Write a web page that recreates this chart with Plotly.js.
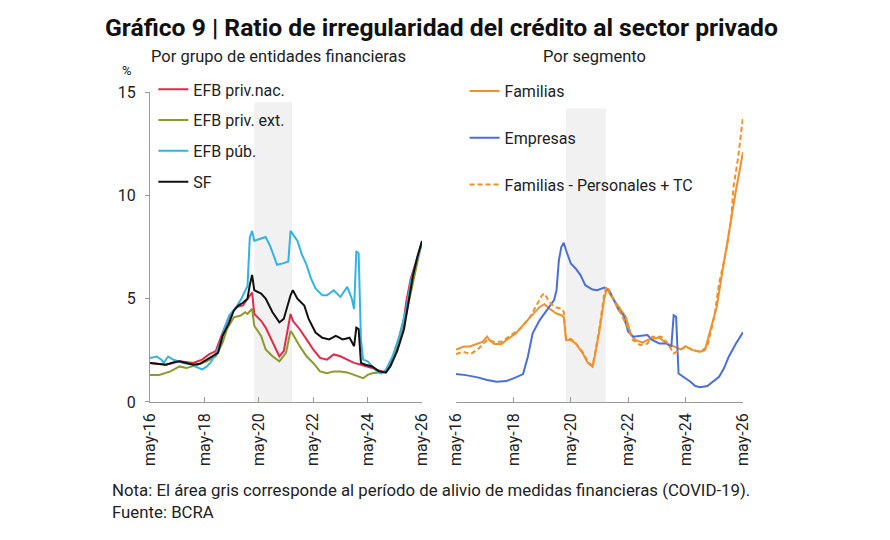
<!DOCTYPE html>
<html>
<head>
<meta charset="utf-8">
<script src="https://cdn.plot.ly/plotly-3.0.1.min.js"></script>
<style>
  html, body { margin: 0; padding: 0; background: #ffffff; }
  #chart { width: 890px; height: 540px; }
</style>
</head>
<body>
<div id="chart"></div>
<script>
// Ratio de irregularidad (%) — por grupo de entidades financieras
const efbPrivNacX = ['2016-05','2016-12','2017-06','2017-12','2018-04','2018-07','2018-10','2019-01','2019-04','2019-07','2019-10','2019-12','2020-02','2020-03','2020-06','2020-08','2020-11','2021-02','2021-04','2021-07','2021-08','2021-11','2022-02','2022-05','2022-08','2022-11','2023-02','2023-05','2023-08','2023-11','2024-02','2024-05','2024-07','2024-10','2025-01','2025-03','2025-06','2025-09','2025-10','2025-12','2026-03','2026-05'];
const efbPrivNacY = [1.89,1.80,1.97,1.89,2.05,2.30,2.46,3.36,4.10,4.59,4.67,5.00,5.30,4.26,3.93,3.60,2.87,2.21,2.46,4.26,3.93,3.52,3.03,2.54,2.13,2.05,2.30,2.21,2.05,1.89,1.80,1.72,1.64,1.52,1.43,1.80,2.70,4.02,4.84,5.98,6.97,7.70];

const efbPrivExtX = ['2016-05','2016-09','2017-02','2017-06','2017-09','2018-02','2018-06','2018-10','2019-01','2019-03','2019-06','2019-09','2019-11','2019-12','2020-02','2020-03','2020-06','2020-08','2020-11','2021-02','2021-05','2021-07','2021-08','2021-11','2022-02','2022-05','2022-08','2022-11','2023-02','2023-05','2023-08','2023-11','2024-01','2024-03','2024-05','2024-07','2024-10','2025-01','2025-03','2025-06','2025-09','2025-12','2026-02','2026-05'];
const efbPrivExtY = [1.31,1.31,1.48,1.72,1.64,1.80,1.97,2.21,2.87,3.52,4.10,4.18,4.34,4.26,4.51,3.69,3.20,2.54,2.21,1.97,2.38,3.44,3.28,2.70,2.21,1.89,1.48,1.39,1.48,1.48,1.43,1.31,1.26,1.15,1.31,1.39,1.43,1.43,1.75,2.54,3.77,5.33,6.39,7.79];

const efbPubX = ['2016-05','2016-08','2016-10','2016-11','2017-01','2017-03','2017-06','2017-08','2017-11','2018-01','2018-04','2018-06','2018-08','2018-10','2018-12','2019-02','2019-04','2019-07','2019-09','2019-11','2019-12','2020-01','2020-02','2020-03','2020-05','2020-08','2020-10','2021-01','2021-04','2021-06','2021-07','2021-10','2021-12','2022-02','2022-04','2022-06','2022-09','2022-11','2023-02','2023-05','2023-08','2023-10','2023-11','2023-12','2024-01','2024-02','2024-03','2024-05','2024-07','2024-09','2024-11','2025-01','2025-04','2025-07','2025-10','2025-12','2026-03','2026-05'];
const efbPubY = [2.13,2.20,2.05,1.90,2.20,2.06,1.95,1.87,1.84,1.71,1.58,1.71,1.95,2.35,2.84,3.65,4.20,4.58,4.94,5.40,5.60,7.95,8.28,7.80,7.87,7.98,7.54,6.64,6.72,6.80,8.28,7.80,7.13,6.64,5.98,5.50,5.16,5.16,5.40,5.08,5.57,5.00,4.50,7.30,7.20,3.03,2.05,1.97,1.72,1.48,1.39,1.56,2.21,3.20,4.50,5.82,6.97,7.79];

const sfX = ['2016-05','2016-09','2016-12','2017-04','2017-06','2017-09','2017-12','2018-03','2018-06','2018-09','2018-11','2019-01','2019-04','2019-06','2019-08','2019-10','2019-12','2020-01','2020-02','2020-03','2020-06','2020-08','2020-11','2021-02','2021-04','2021-07','2021-08','2021-10','2022-01','2022-03','2022-06','2022-09','2022-12','2023-03','2023-06','2023-09','2023-11','2023-12','2024-01','2024-02','2024-04','2024-07','2024-10','2025-01','2025-03','2025-06','2025-09','2025-11','2026-01','2026-03','2026-05'];
const sfY = [1.89,1.85,1.80,1.93,1.97,1.89,1.80,1.85,2.05,2.21,2.38,3.20,3.85,4.43,4.67,4.80,5.00,5.66,6.15,5.41,5.25,5.00,4.34,3.85,4.02,5.16,5.41,5.00,4.67,4.02,3.36,3.11,3.03,3.20,3.03,3.11,2.70,3.60,3.53,1.89,1.80,1.72,1.48,1.43,1.72,2.46,3.52,4.84,6.15,7.05,7.79];

// Ratio de irregularidad (%) — por segmento
const familiasX = ['2016-05','2016-08','2016-11','2017-02','2017-04','2017-06','2017-07','2017-09','2017-12','2018-02','2018-06','2018-09','2019-01','2019-04','2019-06','2019-08','2019-11','2020-01','2020-02','2020-03','2020-05','2020-07','2020-10','2020-12','2021-02','2021-03','2021-05','2021-07','2021-08','2021-10','2022-01','2022-04','2022-06','2022-08','2022-11','2023-01','2023-04','2023-06','2023-09','2023-12','2024-03','2024-05','2024-08','2024-11','2025-01','2025-03','2025-06','2025-08','2025-10','2025-12','2026-02','2026-05'];
const familiasY = [2.54,2.67,2.70,2.83,2.91,3.16,3.00,2.80,2.80,3.00,3.32,3.72,4.20,4.60,4.73,4.52,4.28,4.20,4.12,3.00,3.00,2.83,2.35,1.90,1.71,2.19,3.48,5.01,5.49,5.09,4.60,4.12,3.32,3.00,2.87,3.00,3.08,3.12,2.83,2.67,2.54,2.70,2.51,2.43,2.51,3.32,4.60,6.05,7.50,8.79,10.24,12.09];

const empresasX = ['2016-05','2016-09','2017-02','2017-06','2017-10','2018-02','2018-06','2018-09','2018-11','2019-01','2019-04','2019-07','2019-10','2019-11','2019-12','2020-01','2020-02','2020-03','2020-05','2020-07','2020-09','2020-11','2021-02','2021-04','2021-07','2021-09','2021-11','2022-01','2022-03','2022-05','2022-07','2022-10','2023-01','2023-03','2023-06','2023-09','2023-11','2023-12','2024-01','2024-02','2024-04','2024-07','2024-09','2024-11','2025-02','2025-04','2025-07','2025-09','2025-11','2026-02','2026-05'];
const empresasY = [1.35,1.30,1.19,1.06,0.98,1.01,1.19,1.35,2.19,3.32,3.96,4.44,4.93,5.41,6.86,7.50,7.70,7.34,6.70,6.46,6.14,5.65,5.44,5.41,5.54,5.41,4.93,4.44,4.20,3.40,3.16,3.19,3.24,3.00,2.83,2.83,2.67,4.20,4.12,1.38,1.22,0.98,0.77,0.71,0.77,0.93,1.22,1.63,2.19,2.83,3.37];

const persTcX = ['2016-05','2016-08','2016-11','2017-02','2017-06','2017-09','2017-12','2018-03','2018-08','2018-12','2019-03','2019-05','2019-06','2019-08','2019-10','2020-01','2020-02','2020-03','2020-05','2020-07','2020-10','2020-12','2021-02','2021-03','2021-05','2021-07','2021-08','2021-11','2022-02','2022-04','2022-07','2022-10','2023-01','2023-03','2023-07','2023-09','2023-12','2024-03','2024-05','2024-08','2024-11','2025-02','2025-05','2025-07','2025-10','2025-12','2026-01','2026-03','2026-05'];
const persTcY = [2.32,2.43,2.32,2.54,3.00,2.91,2.91,3.16,3.56,4.12,4.73,5.17,5.25,4.85,4.60,4.52,4.36,3.05,3.05,2.85,2.40,1.95,1.75,2.25,3.60,5.25,5.60,4.93,4.28,3.80,3.00,2.75,2.83,3.16,3.16,2.91,2.35,2.54,2.67,2.51,2.43,2.67,4.12,5.73,7.34,8.79,10.40,11.85,13.78];

// Período de alivio de medidas financieras (COVID-19)
const reliefStart = '2020-03-01';
const reliefEnd = '2021-07-20';

const tickDates = ['2016-05-01','2018-05-01','2020-05-01','2022-05-01','2024-05-01','2026-05-01'];
const tickLabels = ['may-16','may-18','may-20','may-22','may-24','may-26'];

const FONT = 'Roboto, "Noto Sans", sans-serif';
const TXT = '#222222';

function line(x, y, name, color, xa, ya, legend, group, dash) {
  return {
    type: 'scatter', mode: 'lines', x: x, y: y, name: name,
    xaxis: xa, yaxis: ya, legend: legend, legendgroup: group,
    line: { color: color, width: 2, dash: dash || 'solid' },
    hoverinfo: 'skip'
  };
}

const traces = [
  line(efbPrivNacX, efbPrivNacY, 'EFB priv.nac.', '#e3284a', 'x', 'y', 'legend', 'a'),
  line(efbPrivExtX, efbPrivExtY, 'EFB priv. ext.', '#8c9a2b', 'x', 'y', 'legend', 'b'),
  line(efbPubX, efbPubY, 'EFB púb.', '#34b3e2', 'x', 'y', 'legend', 'c'),
  line(sfX, sfY, 'SF', '#111111', 'x', 'y', 'legend', 'd'),
  line(familiasX, familiasY, 'Familias', '#f0902a', 'x2', 'y2', 'legend2', 'e'),
  line(empresasX, empresasY, 'Empresas', '#4a6fd6', 'x2', 'y2', 'legend2', 'f'),
  line(persTcX, persTcY, 'Familias - Personales + TC', '#f0902a', 'x2', 'y2', 'legend2', 'g', '5px,3px')
];

const xCommon = {
  type: 'date',
  range: ['2016-05-01', '2026-05-01'],
  tickmode: 'array', tickvals: tickDates, ticktext: tickLabels,
  tickangle: -90, tickfont: { family: FONT, size: 16, color: TXT },
  ticklabelstandoff: 4,
  showline: true, linecolor: '#9a9a9a', linewidth: 1,
  ticks: 'inside', ticklen: 5, tickcolor: '#9a9a9a',
  showgrid: false, zeroline: false, fixedrange: true
};

const layout = {
  width: 890, height: 540,
  margin: { l: 0, r: 0, t: 0, b: 0 },
  paper_bgcolor: '#ffffff', plot_bgcolor: 'rgba(0,0,0,0)',
  font: { family: FONT, color: TXT },
  showlegend: true,
  xaxis: Object.assign({}, xCommon, { domain: [0.1685, 0.4742], anchor: 'y' }),
  xaxis2: Object.assign({}, xCommon, { domain: [0.5124, 0.8348], anchor: 'y2' }),
  yaxis: {
    domain: [0.2556, 0.8296], range: [0, 15], anchor: 'x',
    tickvals: [0, 5, 10, 15], tickfont: { family: FONT, size: 16, color: TXT },
    ticklabelstandoff: 6,
    showline: true, linecolor: '#9a9a9a', linewidth: 1,
    ticks: 'outside', ticklen: 4, tickcolor: '#9a9a9a',
    showgrid: false, zeroline: false, fixedrange: true
  },
  yaxis2: {
    domain: [0.2556, 0.8296], range: [0, 15], anchor: 'x2',
    visible: false, showgrid: false, zeroline: false, fixedrange: true
  },
  legend: {
    x: 0.1723, y: 0.866, xanchor: 'left', yanchor: 'top',
    bgcolor: 'rgba(0,0,0,0)', font: { family: FONT, size: 16, color: TXT },
    traceorder: 'grouped', tracegroupgap: 7, itemwidth: 30
  },
  legend2: {
    x: 0.522, y: 0.863, xanchor: 'left', yanchor: 'top',
    bgcolor: 'rgba(0,0,0,0)', font: { family: FONT, size: 16, color: TXT },
    traceorder: 'grouped', tracegroupgap: 23, itemwidth: 30
  },
  shapes: [
    { type: 'rect', xref: 'x', yref: 'y', x0: reliefStart, x1: reliefEnd, y0: 0, y1: 14.5,
      fillcolor: '#f1f1f1', line: { width: 0 }, layer: 'below' },
    { type: 'rect', xref: 'x2', yref: 'y2', x0: reliefStart, x1: reliefEnd, y0: 0, y1: 14.2,
      fillcolor: '#f1f1f1', line: { width: 0 }, layer: 'below' }
  ],
  annotations: [
    { text: '<b>Gráfico 9 | Ratio de irregularidad del crédito al sector privado</b>',
      xref: 'paper', yref: 'paper', x: 0.496, y: 1 - 28 / 540, xanchor: 'center', yanchor: 'middle',
      showarrow: false, font: { family: FONT, size: 24.7, color: '#111111' } },
    { text: 'Por grupo de entidades financieras',
      xref: 'paper', yref: 'paper', x: 278 / 890, y: 1 - 56 / 540, xanchor: 'center', yanchor: 'middle',
      showarrow: false, font: { family: FONT, size: 16.5, color: TXT } },
    { text: 'Por segmento',
      xref: 'paper', yref: 'paper', x: 594 / 890, y: 1 - 56 / 540, xanchor: 'center', yanchor: 'middle',
      showarrow: false, font: { family: FONT, size: 16.5, color: TXT } },
    { text: '%',
      xref: 'paper', yref: 'paper', x: 127 / 890, y: 1 - 70 / 540, xanchor: 'center', yanchor: 'middle',
      showarrow: false, font: { family: FONT, size: 13, color: TXT } },
    { text: 'Nota: El área gris corresponde al período de alivio de medidas financieras (COVID-19).<br>Fuente: BCRA',
      xref: 'paper', yref: 'paper', x: 110 / 890, y: 1 - 501 / 540, xanchor: 'left', yanchor: 'middle', align: 'left',
      showarrow: false, font: { family: FONT, size: 16.8, color: TXT } }
  ]
};

Plotly.newPlot('chart', traces, layout, { displayModeBar: false, staticPlot: true });
</script>
</body>
</html>
